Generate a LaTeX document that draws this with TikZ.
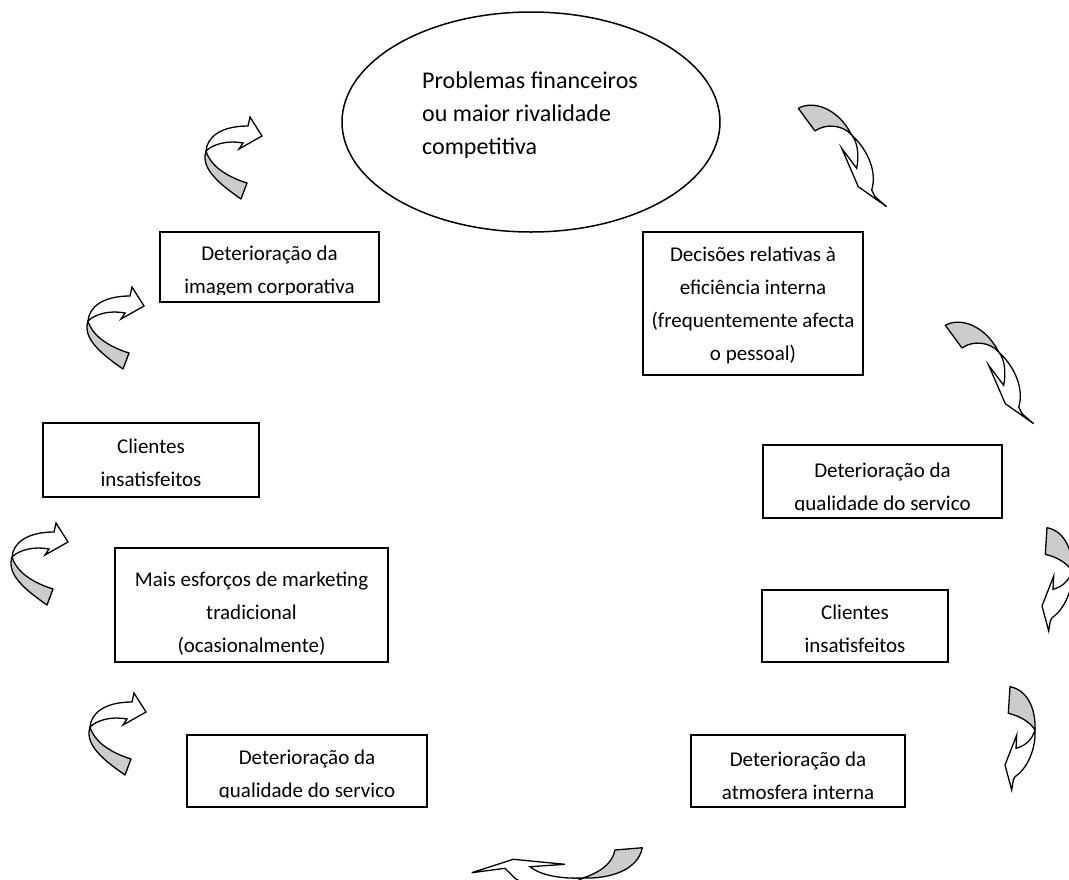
\documentclass[tikz,border=0pt]{standalone}
\usepackage{fontspec}
\setmainfont{Carlito}
\usetikzlibrary{shapes.geometric}
\begin{document}
\begin{tikzpicture}[x=1pt,y=-1pt,
  frame/.style={draw, line width=1.6pt, inner sep=0pt},
  boxtext/.style={inner sep=0pt, align=center, font=\fontsize{21}{33}\selectfont,
    execute at begin node=\strut, execute at end node=\strut},
  back/.style={draw, line width=1.3pt, fill=gray!40, line join=round},
  front/.style={draw, line width=1.3pt, fill=white, line join=miter},
  % ribbon arrow bending up and to the right, head at the top
  pics/turnA/.style={code={
    \draw[back] (3,34) .. controls (-3,52) and (18,68) .. (38,82) -- (44,66)
      .. controls (25,60) and (8,50) .. (3,34) -- cycle;
    \draw[front] (3,34) .. controls (4,20) and (18,9) .. (45,9) -- (47,0) -- (59,19)
      -- (36,32) -- (40,26) .. controls (25,23) and (10,27) .. (3,34) -- cycle;
  }},
  % ribbon arrow bending to the right and down, head at the bottom right
  pics/turnB/.style={code={
    \draw[back] (0.3,5.3) .. controls (15,-3) and (40,5) .. (53.7,32)
      .. controls (45,22) and (28,20) .. (17,28) -- cycle;
    \draw[front] (53.7,32) .. controls (71,48) and (79,70) .. (73.7,87) -- (77,93.7)
      -- (88.7,103.7) -- (60.3,83.7) -- (43.7,45.3) -- (58.7,65.3)
      .. controls (61,52) and (60,40) .. (53.7,32) -- cycle;
  }},
  % ribbon arrow bending down and to the left, head at the bottom
  pics/turnC/.style={code={
    \draw[back] (10,6.7) .. controls (28,10) and (36,30) .. (35,50)
      .. controls (30,42) and (20,36) .. (8.3,33.3) -- cycle;
    \draw[front] (35,50) .. controls (36,68) and (28,88) .. (15,96.7) -- (13.3,100)
      -- (11.7,110) -- (5,85) -- (16.7,55) -- (16,68.3)
      .. controls (25,66) and (32,60) .. (35,50) -- cycle;
  }},
  % ribbon arrow bending to the left, head pointing left
  pics/turnD/.style={code={
    \draw[back] (145,5) -- (172.3,2.7) .. controls (168,25) and (140,34) .. (113,33)
      .. controls (128,28) and (142,20) .. (145,5) -- cycle;
    \draw[front] (113,33) .. controls (90,34) and (70,30) .. (60,21.7) -- (95,19.3)
      -- (43.3,14.3) -- (1.7,27.7) -- (35,23.3) -- (45,33.3)
      .. controls (60,44) and (95,44) .. (113,33) -- cycle;
  }},
]
\useasboundingbox (0,0) rectangle (1069,879);

% starting point of the cycle
\node[draw, ellipse, line width=1.5pt, inner sep=0pt, minimum width=378, minimum height=220]
  (problem) at (531,122) {};
\node[inner sep=0pt, anchor=west, align=left, font=\fontsize{24}{33}\selectfont,
  execute at begin node=\strut, execute at end node=\strut]
  (problemtext) at (422,118) {Problemas financeiros\\ou maior rivalidade\\competitiva};

% boxes of the cycle; overflowing text is cut at the inner bottom margin
\node[frame, minimum width=220, minimum height=143] (decisoes) at (753,303.5) {};
\node[boxtext] (decisoestext) at (753,309)
  {Decisões relativas à\\eficiência interna\\(frequentemente afecta\\o pessoal)};

\node[frame, minimum width=239, minimum height=73] (qualidadeR) at (882.5,481.5) {};
\begin{scope}
  \clip (qualidadeR.north west) rectangle ([yshift=8pt]qualidadeR.south east);
  \node[boxtext] (qualidadeRtext) at (882.5,492) {Deterioração da\\qualidade do servico};
\end{scope}

\node[frame, minimum width=186, minimum height=72] (clientesR) at (855,626) {};
\node[boxtext] (clientesRtext) at (855,634) {Clientes\\insatisfeitos};

\node[frame, minimum width=214, minimum height=72] (atmosfera) at (798,771) {};
\node[boxtext] (atmosferatext) at (798,781) {Deterioração da\\atmosfera interna};

\node[frame, minimum width=240, minimum height=72] (qualidadeL) at (307,771) {};
\begin{scope}
  \clip (qualidadeL.north west) rectangle ([yshift=10pt]qualidadeL.south east);
  \node[boxtext] (qualidadeLtext) at (307,779) {Deterioração da\\qualidade do servico};
\end{scope}

\node[frame, minimum width=273, minimum height=114] (mais) at (251.5,605) {};
\node[boxtext] (maistext) at (251.5,617)
  {Mais esforços de marketing\\tradicional\\(ocasionalmente)};

\node[frame, minimum width=216, minimum height=74] (clientesL) at (151,460) {};
\node[boxtext] (clientesLtext) at (151,468) {Clientes\\insatisfeitos};

\node[frame, minimum width=219, minimum height=70] (imagem) at (269.5,267) {};
\begin{scope}
  \clip (imagem.north west) rectangle ([yshift=8pt]imagem.south east);
  \node[boxtext] (imagemtext) at (269.5,275) {Deterioração da\\imagem corporativa};
\end{scope}

% turning arrows between the steps
\begin{scope}[shift={(798,103)}] \pic {turnB}; \end{scope}
\begin{scope}[shift={(945,320)}, xscale=0.94, yscale=0.9] \pic {turnB}; \end{scope}
\begin{scope}[shift={(1037,521)}, yscale=0.94] \pic {turnC}; \end{scope}
\begin{scope}[shift={(1000,680)}] \pic {turnC}; \end{scope}
\begin{scope}[shift={(470,845)}] \pic {turnD}; \end{scope}
\begin{scope}[shift={(87,693)}] \pic {turnA}; \end{scope}
\begin{scope}[shift={(9,523)}, xscale=1.085, yscale=1.18] \pic {turnA}; \end{scope}
\begin{scope}[shift={(85,287)}, xscale=1.1, yscale=1.48] \pic {turnA}; \end{scope}
\begin{scope}[shift={(203,117)}, xscale=1.085, yscale=1.134] \pic {turnA}; \end{scope}
\end{tikzpicture}
\end{document}
